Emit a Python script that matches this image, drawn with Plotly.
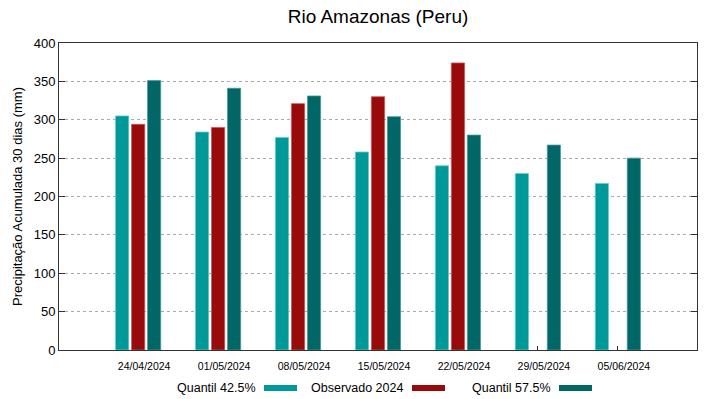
import plotly.graph_objects as go

dates = ["24/04/2024", "01/05/2024", "08/05/2024", "15/05/2024",
         "22/05/2024", "29/05/2024", "05/06/2024"]
quantil_425 = [305, 284, 277, 258, 240, 230, 217]
observado_2024 = [294, 290, 321, 330, 374, None, None]
quantil_575 = [351, 341, 331, 304, 280, 267, 250]
y_ticks = [0, 50, 100, 150, 200, 250, 300, 350, 400]

series = [
    ("Quantil 42.5%", quantil_425, "#009999", "#66cccc", -0.2),
    ("Observado 2024", observado_2024, "#990a0a", "#cc5555", 0.0),
    ("Quantil 57.5%", quantil_575, "#006666", "#4d9999", 0.2),
]

FONT = "Liberation Sans, Arial, sans-serif"
L, R, T, B = 59, 22, 43, 49
W, H = 719, 399
PW, PH = W - L - R, H - T - B

fig = go.Figure()
idx = list(range(len(dates)))
for name, vals, col, edge, off in series:
    fig.add_trace(go.Bar(
        x=[i + off for i in idx], y=vals, width=0.165, name=name,
        marker=dict(color=col, line=dict(color=edge, width=0.8)),
        showlegend=False,
    ))

# gnuplot-style legend: text then colour swatch
legend_items = [(256, 264, 297), (403, 412, 445), (551, 559, 592)]
ly = 388
for (name, _, col, _, _), (tx, s0, s1) in zip(series, legend_items):
    fig.add_annotation(x=(tx - L) / PW, y=(H - B - ly) / PH, xref="paper", yref="paper",
                       text=name, showarrow=False, xanchor="right", yanchor="middle",
                       xshift=2,
                       font=dict(family=FONT, size=12.5, color="#000"))
    fig.add_shape(type="rect", xref="paper", yref="paper",
                  x0=(s0 - L) / PW, x1=(s1 - L) / PW,
                  y0=(H - B - ly - 3) / PH, y1=(H - B - ly + 3) / PH,
                  fillcolor=col, line=dict(width=0))

fig.update_layout(
    width=W, height=H,
    margin=dict(l=L, r=R, t=T, b=B),
    paper_bgcolor="white", plot_bgcolor="white",
    title=dict(text="Rio Amazonas (Peru)", x=(L + PW / 2) / W, xanchor="center",
               y=1 - 16 / H, yanchor="middle",
               font=dict(family=FONT, size=19, color="#000")),
    barmode="overlay",
    font=dict(family=FONT, color="#000"),
    xaxis=dict(range=[-0.99, 6.99], tickmode="array", tickvals=idx, ticktext=dates,
               showgrid=False, zeroline=False, showline=True, mirror=True,
               linecolor="#333", linewidth=1, ticks="inside", ticklen=4,
               tickcolor="#333", ticklabelshift=6, ticklabelstandoff=6,
               tickfont=dict(family=FONT, size=10.5, color="#000")),
    yaxis=dict(range=[0, 400], tickmode="array", tickvals=y_ticks,
               showgrid=True, gridcolor="#aaaaaa", griddash="dot", gridwidth=1,
               zeroline=False, showline=True, mirror="ticks", linecolor="#333",
               linewidth=1, ticks="inside", ticklen=6, tickcolor="#333",
               tickfont=dict(family=FONT, size=13, color="#000"),
               title=dict(text="Precipitação Acumulada 30 dias (mm)", standoff=8,
                          font=dict(family=FONT, size=13, color="#000"))),
)

fig.write_html("out.html", config={"displayModeBar": False},
               post_script="document.body.style.margin='0';")
